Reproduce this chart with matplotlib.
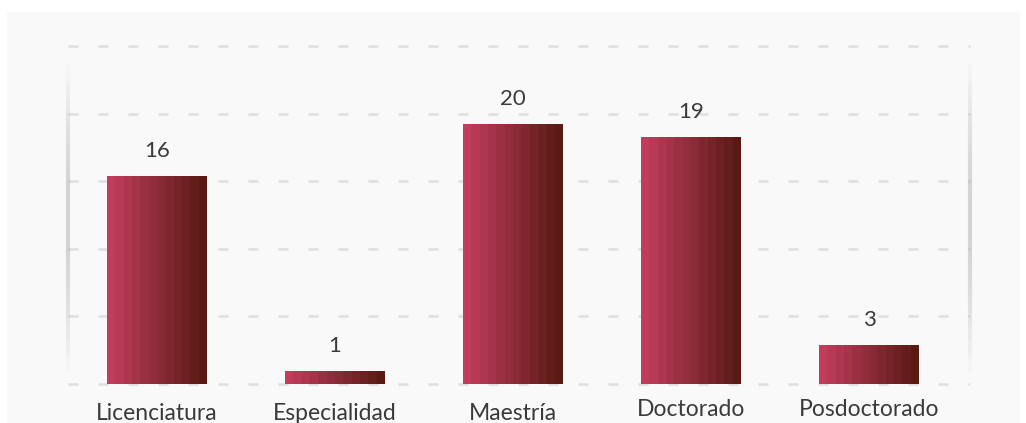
import numpy as np
import matplotlib
matplotlib.use("Agg")
import matplotlib.pyplot as plt
from matplotlib.colors import LinearSegmentedColormap
from matplotlib.patches import Rectangle
from matplotlib.collections import LineCollection

categories = ["Licenciatura", "Especialidad", "Maestría", "Doctorado", "Posdoctorado"]
values = [16, 1, 20, 19, 3]

plt.rcParams['font.family'] = ['Lato', 'DejaVu Sans']

fig = plt.figure(figsize=(10.26, 4.23), dpi=100)
fig.patch.set_facecolor("white")
# tarjeta gris claro de fondo
fig.add_artist(Rectangle((7 / 1026, 0), 1013 / 1026, 411 / 423,
                         transform=fig.transFigure, facecolor="#f9f9f9",
                         edgecolor="none", zorder=-5))

ax = fig.add_axes([68 / 1026, 39 / 423, 890 / 1026, 338 / 423])
ax.set_facecolor("none")

ymax = 26.1
right = 902 / 890  # las líneas de la rejilla siguen un poco más allá
for y in np.linspace(0, ymax, 6):
    ax.plot([0, right], [y, y], transform=ax.get_yaxis_transform(),
            color="#dedede", lw=1.8, dashes=(4, 8), zorder=1, clip_on=False)

cmap = LinearSegmentedColormap.from_list("vino", ["#c23d5c", "#8e2c3a", "#5a1a14"])
grad = np.linspace(0, 1, 12).reshape(1, -1)
width = 0.56
for i, v in enumerate(values):
    ax.imshow(grad, cmap=cmap, aspect="auto", interpolation="nearest",
              extent=(i - width / 2, i + width / 2, 0, v), zorder=2)
    ax.text(i, v + 1.2, str(v), ha="center", va="bottom", fontsize=16,
            color="#3a3a3a", zorder=3)

ax.set_xlim(-0.5, len(categories) - 0.5)
ax.set_ylim(0, ymax)

# sombras verticales a los lados
ys = np.linspace(0.5, ymax - 1, 60)
for xs in (0, right):
    segs = [[(xs, ys[k]), (xs, ys[k + 1])] for k in range(len(ys) - 1)]
    a = np.sin(np.linspace(0, np.pi, len(segs))) * 0.35
    lc = LineCollection(segs, colors=[(0.55, 0.55, 0.58, t) for t in a], lw=3,
                        zorder=1, clip_on=False, transform=ax.get_yaxis_transform())
    ax.add_collection(lc)

ax.set_xticks(range(len(categories)))
ax.set_xticklabels(categories, fontsize=16.5, color="#3a3a3a")
offsets = [0, 0, 0, 4, 4]
for lab, off in zip(ax.get_xticklabels(), offsets):
    lab.set_y(-0.055 + off / 338)
ax.tick_params(axis="x", length=0, pad=0)
ax.set_yticks([])
for s in ax.spines.values():
    s.set_visible(False)

fig.savefig("out.png", dpi=100)
